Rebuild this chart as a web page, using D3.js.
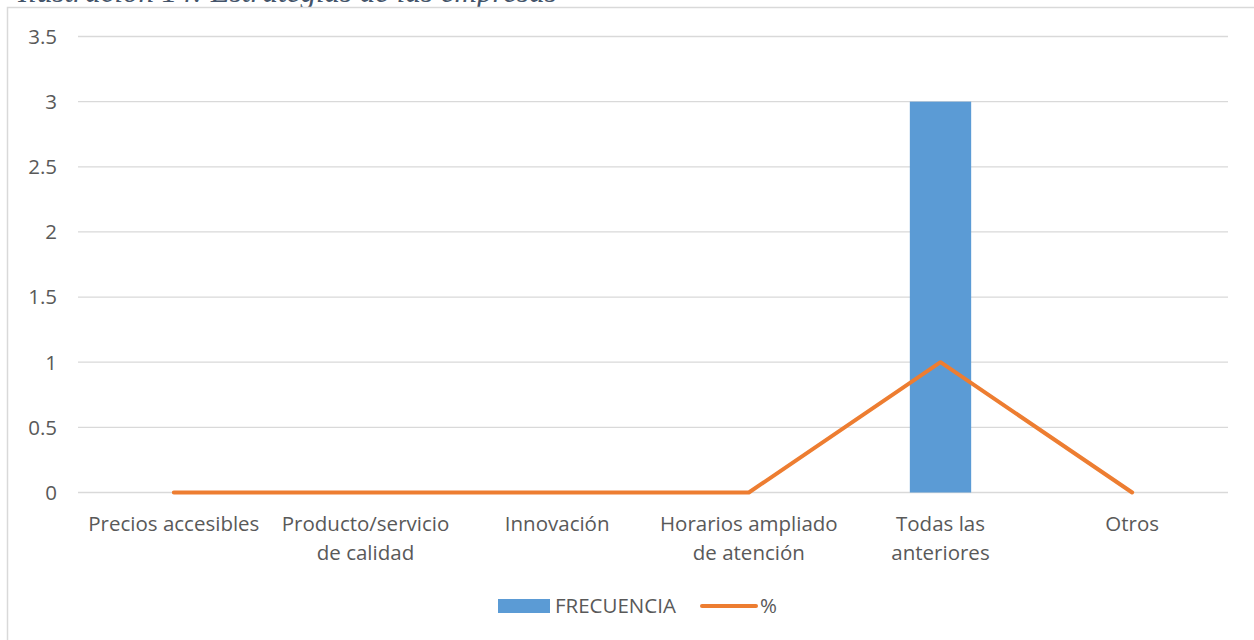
<!DOCTYPE html>
<html><head><meta charset="utf-8">
<script src="https://cdn.jsdelivr.net/npm/d3@7"></script>
<style>body{margin:0;background:#fff}svg{display:block}</style>
</head><body>
<svg id="c" width="1254" height="640"></svg>
<script>
const categories = [["Precios accesibles"],["Producto/servicio","de calidad"],["Innovación"],["Horarios ampliado","de atención"],["Todas las","anteriores"],["Otros"]];
const frecuencia = [0,0,0,0,3,0];
const porcentaje = [0,0,0,0,1,0];
const yTicks = [0,0.5,1,1.5,2,2.5,3,3.5];
const yTickLabels = ["0","0.5","1","1.5","2","2.5","3","3.5"];
const seriesNames = ["FRECUENCIA","%"];
const titleText = "Ilustración 14: Estrategias de las empresas";

(function(){
const svg = d3.select("#c");
const font = "'Open Sans', sans-serif";
const fs = 20.5;
const mLeft = 78, mRight = 1228, mTop = 36.5, mBottom = 492.5;
const idx = categories.map((d,i)=>i);
const x = d3.scaleBand().domain(idx).range([mLeft,mRight]).paddingInner(0).paddingOuter(0);
const y = d3.scaleLinear().domain([0,3.5]).range([mBottom,mTop]);

// title (cut off at top, as in the reference)
svg.append("text").attr("x",18).attr("y",1.5).attr("font-family","'Liberation Serif', serif")
  .attr("font-style","italic").attr("font-size",31).attr("fill","#44546A").text(titleText);

// frame
svg.append("rect").attr("x",7.5).attr("y",7.5).attr("width",1260).attr("height",650)
  .attr("fill","#fff").attr("stroke","#d9d9d9").attr("stroke-width",1.5);

// grid
svg.append("g").selectAll("line").data(yTicks).join("line")
  .attr("x1",mLeft).attr("x2",mRight).attr("y1",d=>y(d)).attr("y2",d=>y(d))
  .attr("stroke","#d9d9d9").attr("stroke-width",1.3);

// y labels
svg.append("g").selectAll("text").data(yTicks).join("text")
  .attr("x",57).attr("y",d=>y(d)).attr("dy","0.36em").attr("text-anchor","end")
  .attr("font-family",font).attr("font-size",fs).attr("fill","#595959")
  .text((d,i)=>yTickLabels[i]);

// bars
const bw = x.bandwidth()*0.32;
svg.append("g").selectAll("rect").data(frecuencia).join("rect")
  .attr("x",(d,i)=>x(i)+x.bandwidth()/2-bw/2).attr("width",bw)
  .attr("y",d=>y(d)).attr("height",d=>y(0)-y(d)).attr("fill","#5B9BD5");

// line
const line = d3.line().x((d,i)=>x(i)+x.bandwidth()/2).y(d=>y(d));
svg.append("path").datum(porcentaje).attr("d",line).attr("fill","none")
  .attr("stroke","#ED7D31").attr("stroke-width",4).attr("stroke-linejoin","round").attr("stroke-linecap","round");

// x labels
const xl = svg.append("g").selectAll("text").data(categories).join("text")
  .attr("text-anchor","middle").attr("font-family",font).attr("font-size",fs).attr("fill","#595959");
xl.each(function(d,i){
  d3.select(this).selectAll("tspan").data(d).join("tspan")
    .attr("x",x(i)+x.bandwidth()/2).attr("y",(t,j)=>531+j*29).text(t=>t);
});

// legend
const lg = svg.append("g").attr("font-family",font).attr("font-size",fs).attr("fill","#595959");
lg.append("rect").attr("x",498).attr("y",599).attr("width",52).attr("height",14).attr("fill","#5B9BD5");
lg.append("text").attr("x",555).attr("y",613).text(seriesNames[0]);
lg.append("line").attr("x1",702).attr("x2",756).attr("y1",606).attr("y2",606)
  .attr("stroke","#ED7D31").attr("stroke-width",4).attr("stroke-linecap","round");
lg.append("text").attr("x",760).attr("y",613).text(seriesNames[1]);
})();
</script>
</body></html>
